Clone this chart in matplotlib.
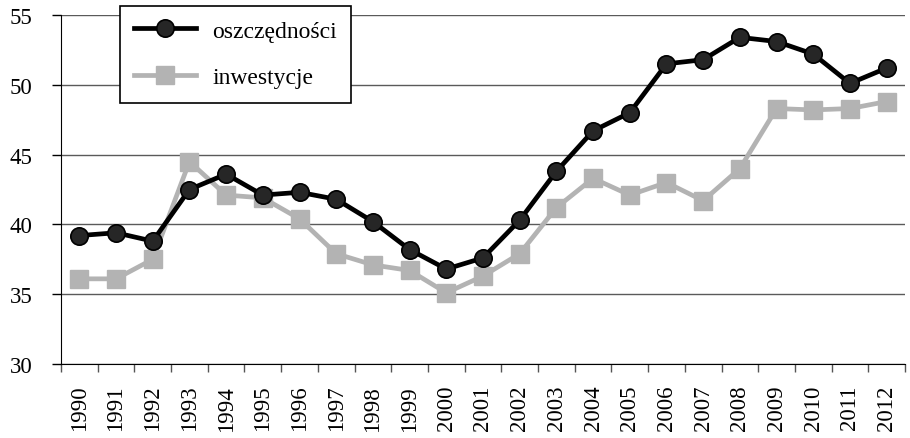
import matplotlib
matplotlib.use("Agg")
import matplotlib.pyplot as plt
import numpy as np

years = [str(y) for y in range(1990, 2013)]
oszczednosci = [39.2, 39.4, 38.8, 42.5, 43.6, 42.1, 42.3, 41.8, 40.2, 38.2, 36.8,
                37.6, 40.3, 43.8, 46.7, 48.0, 51.5, 51.8, 53.4, 53.1, 52.2, 50.1, 51.2]
inwestycje = [36.1, 36.1, 37.5, 44.5, 42.1, 41.9, 40.4, 37.9, 37.1, 36.7, 35.1,
              36.3, 37.9, 41.2, 43.3, 42.1, 43.0, 41.7, 44.0, 48.3, 48.2, 48.3, 48.8]
yticks = [30, 35, 40, 45, 50, 55]

plt.rcParams['font.family'] = ['Liberation Serif', 'DejaVu Serif']

fig = plt.figure(figsize=(9.1, 4.39), dpi=100)
ax = fig.add_axes([61/910, 74/439, 844/910, 349/439])

x = np.arange(len(years))
ax.plot(x, inwestycje, color='#b3b3b3', lw=3.4, marker='s', markersize=13,
        markerfacecolor='#b3b3b3', markeredgecolor='#b3b3b3', label='inwestycje', zorder=3)
ax.plot(x, oszczednosci, color='black', lw=3.4, marker='o', markersize=12.5,
        markerfacecolor='#262626', markeredgecolor='black', markeredgewidth=1.2,
        label='oszczędności', zorder=4)

ax.set_xlim(-0.5, len(years) - 0.5)
ax.set_ylim(30, 55)
ax.set_yticks(yticks)
ax.set_yticklabels([str(v) for v in yticks], fontsize=16.5)
ax.yaxis.grid(True, color='#5a5a5a', lw=1)
ax.set_axisbelow(True)

ax.set_xticks(np.arange(len(years) + 1) - 0.5)
ax.set_xticklabels([])
ax.set_xticks(x, minor=True)
ax.set_xticklabels(years, minor=True, rotation=90, fontsize=16.5)
ax.tick_params(axis='x', which='minor', length=0, pad=15)
ax.tick_params(axis='x', which='major', length=6, color='#555555', width=1)
ax.tick_params(axis='y', length=6.5, color='black', width=1, pad=14)

for s in ['top', 'right']:
    ax.spines[s].set_visible(False)
ax.spines['left'].set_color('black')
ax.spines['bottom'].set_color('black')

h, l = ax.get_legend_handles_labels()
leg = ax.legend(h[::-1], l[::-1], loc='upper left', bbox_to_anchor=(120/910, 1 - 7/439),
                bbox_transform=fig.transFigure, borderaxespad=0, fontsize=17,
                handlelength=2.6, handletextpad=0.72, labelspacing=1.07, borderpad=0.6,
                fancybox=False, framealpha=1, edgecolor='black')
leg.get_frame().set_linewidth(1.2)

fig.savefig('out.png', dpi=100)
